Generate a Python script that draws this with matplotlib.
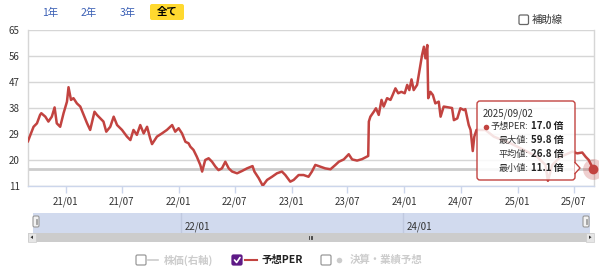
import matplotlib
matplotlib.use('Agg')
import matplotlib.pyplot as plt
import matplotlib.dates as mdates
import pandas as pd
from matplotlib.patches import FancyBboxPatch, Rectangle, Polygon

plt.rcParams['font.family'] = ['Noto Sans CJK JP', 'DejaVu Sans']

# ---------------- data ----------------
dates = [
    '2020-09-01', '2020-09-08', '2020-09-19', '2020-09-30', '2020-10-10', '2020-10-14',
    '2020-10-27', '2020-11-06', '2020-11-17', '2020-11-26', '2020-12-03', '2020-12-14',
    '2020-12-25', '2021-01-05', '2021-01-10', '2021-01-18', '2021-01-26', '2021-02-06',
    '2021-02-17', '2021-02-28', '2021-03-11', '2021-03-21', '2021-04-04', '2021-04-12',
    '2021-04-23', '2021-05-03', '2021-05-12', '2021-05-25', '2021-06-05', '2021-06-16',
    '2021-07-02', '2021-07-18', '2021-07-29', '2021-08-08', '2021-08-19', '2021-08-30',
    '2021-09-10', '2021-09-21', '2021-10-01', '2021-10-07', '2021-10-23', '2021-11-08',
    '2021-11-24', '2021-12-11', '2021-12-21', '2022-01-01', '2022-01-12', '2022-01-23',
    '2022-02-02', '2022-02-08', '2022-02-18', '2022-03-01', '2022-03-12', '2022-03-18',
    '2022-03-28', '2022-04-08', '2022-04-19', '2022-04-30', '2022-05-10', '2022-05-21',
    '2022-06-01', '2022-06-12', '2022-06-23', '2022-07-09', '2022-07-25', '2022-08-10',
    '2022-08-28', '2022-09-03', '2022-09-17', '2022-09-30', '2022-10-14', '2022-10-30',
    '2022-11-15', '2022-12-01', '2022-12-12', '2022-12-28', '2023-01-08', '2023-01-24',
    '2023-02-09', '2023-02-25', '2023-03-08', '2023-03-19', '2023-04-04', '2023-04-20',
    '2023-05-07', '2023-05-23', '2023-06-03', '2023-06-19', '2023-07-05', '2023-07-16',
    '2023-08-01', '2023-08-17', '2023-08-28', '2023-09-06', '2023-09-08', '2023-09-13',
    '2023-09-24', '2023-10-01', '2023-10-10', '2023-10-19', '2023-10-26', '2023-11-06',
    '2023-11-17', '2023-11-24', '2023-12-03', '2023-12-12', '2023-12-22', '2024-01-02',
    '2024-01-10', '2024-01-17', '2024-01-24', '2024-01-31', '2024-02-11', '2024-02-19',
    '2024-02-27', '2024-03-04', '2024-03-09', '2024-03-15', '2024-03-18', '2024-03-25',
    '2024-04-02', '2024-04-10', '2024-04-21', '2024-04-27', '2024-05-07', '2024-05-23',
    '2024-06-03', '2024-06-09', '2024-06-20', '2024-06-30', '2024-07-11', '2024-07-16',
    '2024-07-27', '2024-08-02', '2024-08-09', '2024-08-14', '2024-08-21', '2024-09-19',
    '2024-10-16', '2024-11-12', '2024-12-09', '2025-01-10', '2025-02-01', '2025-03-05',
    '2025-04-01', '2025-04-09', '2025-04-23', '2025-05-20', '2025-06-27', '2025-07-13',
    '2025-07-29', '2025-08-09', '2025-08-19', '2025-08-30', '2025-09-02',
]
per = [
    26.5, 28.5, 31.5, 32.7, 35.6, 36.2,
    35.0, 33.3, 35.0, 38.2, 32.7, 31.5,
    36.2, 40.2, 45.2, 40.8, 41.4, 39.6,
    38.5, 35.6, 32.7, 30.4, 36.7, 35.6,
    34.4, 33.3, 29.8, 31.5, 35.0, 32.1,
    30.4, 28.1, 26.9, 30.4, 28.7, 32.1,
    29.2, 31.5, 27.5, 25.5, 28.1, 29.2,
    30.4, 32.1, 29.8, 31.0, 29.2, 26.3,
    25.8, 24.6, 23.5, 21.1, 18.3, 16.0,
    20.0, 20.6, 19.4, 17.7, 16.5, 17.1,
    19.4, 17.1, 16.0, 15.4, 16.2, 17.1,
    17.9, 16.0, 13.7, 11.1, 13.1, 14.2,
    15.4, 16.0, 14.8, 12.5, 13.1, 14.8,
    14.8, 14.2, 16.0, 18.3, 17.7, 17.1,
    16.8, 18.3, 19.4, 20.2, 22.0, 20.2,
    19.8, 20.3, 20.9, 21.4, 33.3, 35.0,
    36.7, 37.9, 35.6, 40.8, 38.5, 41.4,
    40.8, 42.5, 44.8, 43.1, 43.6, 43.1,
    46.0, 44.2, 47.9, 44.2, 46.0, 51.2,
    56.3, 59.2, 55.2, 59.8, 41.4, 43.6,
    42.5, 39.6, 40.2, 35.0, 38.5, 38.2,
    38.0, 33.8, 34.4, 37.9, 37.3, 37.6,
    32.1, 30.4, 23.1, 28.1, 30.4, 30.4,
    28.1, 26.9, 25.8, 24.1, 22.9, 21.1,
    18.3, 12.8, 18.3, 21.1, 22.9, 22.3,
    22.6, 21.1, 20.0, 17.7, 17.0,
]
y_ticks = [11, 20, 29, 38, 47, 56, 65]
x_tick_dates = ['2021-01-01', '2021-07-01', '2022-01-01', '2022-07-01', '2023-01-01',
                '2023-07-01', '2024-01-01', '2024-07-01', '2025-01-01', '2025-07-01']
nav_tick_dates = ['2022-01-01', '2024-01-01']
range_buttons = ['1年', '2年', '3年', '全て']
aux_label = '補助線'
legend_items = ['株価(右軸)', '予想PER', '決算・業績予想']
tooltip_date = '2025/09/02'
tooltip_labels = ['予想PER:', '最大値:', '平均値:', '最小値:']
tooltip_values = ['17.0 倍', '59.8 倍', '26.8 倍', '11.1 倍']
x_start, x_end = '2020-09-01', '2025-09-05'

# ---------------- figure ----------------
W, H = 599, 277
RED = '#c24340'
fig = plt.figure(figsize=(W / 100, H / 100), dpi=100)


def fx(x):
    return x / W


def fy(y):
    return 1 - y / H


d = pd.to_datetime(dates)
ax = fig.add_axes([fx(28), fy(186), (594 - 28) / W, (186 - 30) / H])
ax.plot(d, per, color=RED, lw=1.8, solid_joinstyle='round', zorder=3)
ax.axhline(per[-1], color='#cccccc', lw=2.0, zorder=2)
ax.plot(d[-1:], per[-1:], 'o', ms=15, color=RED, alpha=0.25, mec='none', clip_on=False, zorder=4)
ax.plot(d[-1:], per[-1:], 'o', ms=7, color=RED, mec='none', clip_on=False, zorder=5)

ax.set_xlim(pd.Timestamp(x_start), pd.Timestamp(x_end))
ax.set_ylim(min(y_ticks), max(y_ticks))
ax.set_yticks(y_ticks)
ax.set_yticklabels([str(v) for v in y_ticks])
ax.set_xticks(pd.to_datetime(x_tick_dates))
ax.xaxis.set_major_formatter(mdates.DateFormatter('%y/%m'))
ax.grid(axis='y', color='#d6d6d6', lw=1.0)
ax.set_axisbelow(True)
ax.tick_params(axis='y', length=0, pad=6, labelsize=7, labelcolor='#333333')
ax.tick_params(axis='x', length=5, width=1, color='#ccd6eb', pad=2.5,
               labelsize=7, labelcolor='#333333')
for s in ['left', 'right']:
    ax.spines[s].set_color('#d6d6d6')
    ax.spines[s].set_linewidth(1.0)
ax.spines['top'].set_visible(False)
ax.spines['bottom'].set_color('#ccd6eb')
ax.spines['bottom'].set_linewidth(1.0)

# ---------------- navigator ----------------
nav = fig.add_axes([fx(33), fy(233), (590 - 33) / W, (233 - 213) / H])
nav.set_xlim(pd.Timestamp(x_start), pd.Timestamp(x_end))
nav.set_ylim(0, 1)
nav.set_facecolor('#d1daee')
for s in nav.spines.values():
    s.set_visible(False)
nav.set_yticks([])
nav.set_xticks([])
for t in pd.to_datetime(nav_tick_dates):
    nav.axvline(t, color='#c0c9df', lw=1)
    nav.text(t + pd.Timedelta(days=10), 0.32, t.strftime('%y/%m'), fontsize=7,
             color='#333333', ha='left', va='center')

# ---------------- overlay (pixel coordinates) ----------------
ov = fig.add_axes([0, 0, 1, 1], zorder=10)
ov.set_xlim(0, W)
ov.set_ylim(H, 0)
ov.axis('off')
ov.patch.set_alpha(0)

# navigator handles
for hx in (33, 583):
    ov.add_patch(FancyBboxPatch((hx, 216), 6, 11, boxstyle='round,pad=0,rounding_size=1.5',
                                fc='#f2f2f2', ec='#999999', lw=0.8))
    ov.plot([hx + 2.5, hx + 2.5], [219, 224], color='#999999', lw=0.6)
    ov.plot([hx + 3.8, hx + 3.8], [219, 224], color='#999999', lw=0.6)

# scrollbar
ov.add_patch(Rectangle((28, 233), 566, 8.5, fc='#cccccc', ec='none'))
ov.add_patch(Rectangle((28, 233), 8, 8.5, fc='#e6e6e6', ec='#cccccc', lw=0.5))
ov.add_patch(Rectangle((586, 233), 8, 8.5, fc='#e6e6e6', ec='#cccccc', lw=0.5))
ov.add_patch(Polygon([(30.5, 237.2), (33, 235.5), (33, 239)], fc='#333333', ec='none'))
ov.add_patch(Polygon([(591.5, 237.2), (589, 235.5), (589, 239)], fc='#333333', ec='none'))
for gx in (309, 310.5, 312):
    ov.plot([gx, gx], [235.5, 239], color='#333333', lw=0.6)

# range buttons
btn_x = [50, 89, 128, 167]
for i, (lbl, bx) in enumerate(zip(range_buttons, btn_x)):
    if i == 3:
        ov.add_patch(FancyBboxPatch((150, 4), 34, 16, boxstyle='round,pad=0,rounding_size=2',
                                    fc='#ffd92f', ec='none'))
        ov.text(bx, 12.5, lbl, fontsize=7.5, fontweight='bold', color='#000000',
                ha='center', va='center')
    else:
        ov.text(bx, 12.5, lbl, fontsize=7.5, color='#3a5fb5', ha='center', va='center')

# auxiliary-line checkbox
ov.add_patch(FancyBboxPatch((519, 15), 9.5, 9.5, boxstyle='round,pad=0,rounding_size=1.5',
                            fc='white', ec='#666666', lw=0.9))
ov.text(531.5, 19.8, aux_label, fontsize=7.5, color='#333333', ha='left', va='center')

# legend
LY = 260
ov.add_patch(FancyBboxPatch((136, LY - 5), 10, 10, boxstyle='round,pad=0,rounding_size=1.5',
                            fc='white', ec='#999999', lw=0.9))
ov.plot([148, 158], [LY, LY], color='#cccccc', lw=1.2)
ov.text(164, LY, legend_items[0], fontsize=7.5, color='#cccccc', fontweight='bold',
        ha='left', va='center')
ov.add_patch(FancyBboxPatch((232, LY - 5), 10, 10, boxstyle='round,pad=0,rounding_size=1.5',
                            fc='#5e1a86', ec='#5e1a86', lw=0.9))
ov.plot([234.5, 236.6, 240], [LY, LY + 2.5, LY - 2.5], color='white', lw=1.2,
        solid_capstyle='round')
ov.plot([245, 257], [LY, LY], color=RED, lw=1.5)
ov.text(262, LY, legend_items[1], fontsize=7.5, color='#222222', fontweight='bold',
        ha='left', va='center')
ov.add_patch(FancyBboxPatch((321, LY - 5), 10, 10, boxstyle='round,pad=0,rounding_size=1.5',
                            fc='white', ec='#999999', lw=0.9))
ov.plot([339], [LY], 'o', ms=4, color='#cccccc', mec='none')
ov.text(350, LY, legend_items[2], fontsize=7.5, color='#cccccc', fontweight='bold',
        ha='left', va='center')

# tooltip
ov.add_patch(FancyBboxPatch((477, 101), 98, 79, boxstyle='round,pad=0,rounding_size=3',
                            fc=(1, 1, 1, 0.85), ec=RED, lw=1.0))
ov.add_patch(Polygon([(574.5, 162.5), (580, 168), (574.5, 173.5)], fc='white', ec='none'))
ov.plot([575, 580, 575], [162.5, 168, 173.5], color=RED, lw=1.0)
ov.text(483, 113.5, tooltip_date, fontsize=7, color='#333333', ha='left', va='center')
ov.plot([486], [126.5], 'o', ms=4, color=RED, mec='none')
rows_y = [126.5, 140.5, 154, 168]
for lbl, val, yy in zip(tooltip_labels, tooltip_values, rows_y):
    ov.text(528.5, yy, lbl, fontsize=6.6, color='#333333', ha='right', va='center')
    ov.text(531, yy, val, fontsize=7, color='#222222', fontweight='bold',
            ha='left', va='center')

fig.savefig('out.png', dpi=100)
